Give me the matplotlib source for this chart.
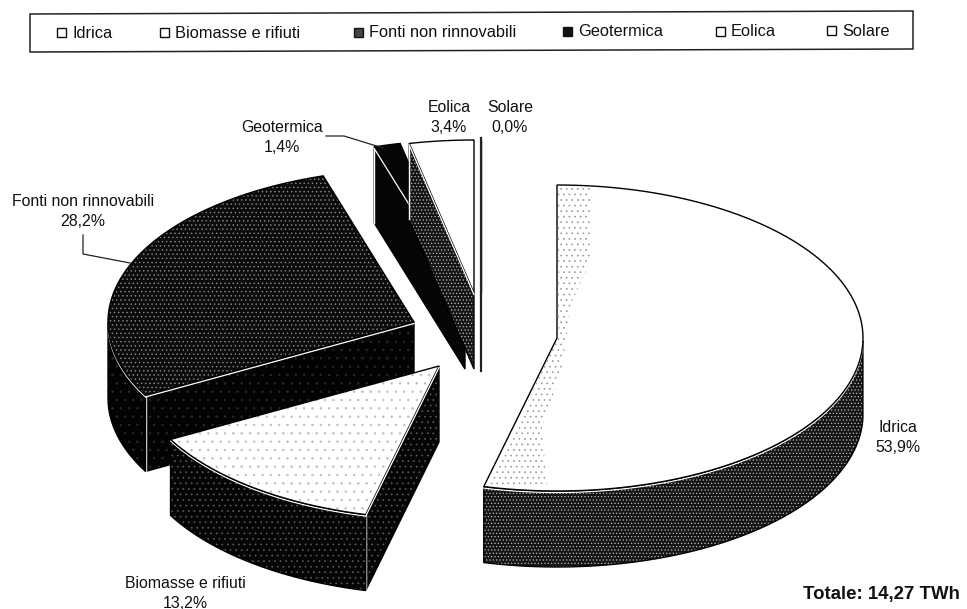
#!/usr/bin/env python3
# -*- coding: utf-8 -*-
import numpy as np
import matplotlib
matplotlib.use("Agg")
import matplotlib.pyplot as plt
from matplotlib.patches import Polygon

plt.rcParams['font.family'] = ['Liberation Sans', 'DejaVu Sans']
plt.rcParams['hatch.linewidth'] = 0.5

# Ripartizione della produzione per fonte
fonti = ["Idrica", "Biomasse e rifiuti", "Fonti non rinnovabili",
         "Geotermica", "Eolica", "Solare"]
quote = [53.9, 13.2, 28.2, 1.4, 3.4, 0.0]
etichette = ["53,9%", "13,2%", "28,2%", "1,4%", "3,4%", "0,0%"]
totale = "Totale: 14,27 TWh"

# Centro di ogni fetta esplosa, in pixel
CENTRI = [(557, 338), (439, 366), (414, 322), (465, 293), (474, 293), (481, 293)]
RX = 306
RY = 153
PROF = 76


def punto(c, t):
    return c[0] + RX * np.sin(t), c[1] - RY * np.cos(t)


def grana(ax, xy, fondo, strati, z):
    # fondo pieno e puntinato sovrapposto a strati
    ax.add_patch(Polygon(xy, closed=True, facecolor=fondo, edgecolor="none", zorder=z))
    for col, hatch in strati:
        ax.add_patch(Polygon(xy, closed=True, facecolor="none", edgecolor=col,
                             hatch=hatch, linewidth=0, zorder=z))


def bordo(ax, xy, z, col="black", lw=1.0):
    ax.add_patch(Polygon(xy, closed=True, fill=False, edgecolor=col, linewidth=lw,
                         joinstyle="miter", zorder=z))


def fetta(ax, c, t0, t1, top, lato, z):
    ts = np.linspace(t0, t1, 120)
    arco = np.array([punto(c, t) for t in ts])
    faccia = np.vstack([[c], arco])

    # parete sul taglio iniziale, visibile solo se guarda verso il basso
    if np.sin(t0) < -1e-6:
        p = np.array(punto(c, t0))
        muro = [c, p, p + [0, PROF], (c[0], c[1] + PROF)]
        grana(ax, muro, lato[0], lato[1], z)
        bordo(ax, muro, z + 0.1)
        ax.plot([p[0], p[0]], [p[1], p[1] + PROF], color="white", lw=1.0, zorder=z + 0.2)
        ax.plot([c[0], p[0]], [c[1] + 1.5, p[1] + 1.5], color="white", lw=0.9, zorder=z + 0.8)

    # parete esterna: solo la parte anteriore dell'arco
    vis = ts[np.cos(ts) <= 0]
    if len(vis) > 1:
        a = np.array([punto(c, t) for t in vis])
        muro = np.vstack([a, (a + [0, PROF])[::-1]])
        grana(ax, muro, lato[0], lato[1], z + 0.3)
        bordo(ax, muro, z + 0.4)
        ax.plot(a[:, 0], a[:, 1] + 1.5, color="white", lw=0.9, zorder=z + 0.5)

    grana(ax, faccia, top[0], top[1], z + 0.6)
    bordo(ax, faccia, z + 0.7)


fig = plt.figure(figsize=(9.67, 6.09), dpi=100)
ax = fig.add_axes([0, 0, 1, 1])
ax.set_xlim(0, 967)
ax.set_ylim(609, 0)
ax.axis("off")

# Aspetto di ogni fetta: (fondo, [(colore puntini, hatch), ...])
bianco = ("white", [])
chiaro = ("white", [("#bdbdbd", "..")])
scuro = ("#050505", [("#5c5c5c", "...")])
grigio = ("#161616", [("#b8b8b8", ".....")])
medio = ("#0c0c0c", [("#8c8c8c", "....")])
nero = ("#030303", [("#2a2a2a", "..")])
stile_top = [bianco, chiaro, medio, ("#050505", []), bianco, bianco]
stile_lato = [grigio, scuro, nero, ("#050505", []), grigio, nero]
ordine = [2, 3, 4, 5, 0, 1]

angoli = np.radians(np.cumsum([0] + quote) / sum(quote) * 360)

for n, i in enumerate(ordine):
    fetta(ax, CENTRI[i], angoli[i], angoli[i + 1], stile_top[i], stile_lato[i], 2 + n * 2)

# Fetta nulla: resta solo il tratto verticale
cs = CENTRI[5]
ax.plot([cs[0], cs[0]], [cs[1] - RY - 2, cs[1] + PROF + 2], color="#222222", lw=1.6, zorder=20)

# Ombreggiatura chiara lungo i tagli della fetta idrica
ci = CENTRI[0]
fascia = [(ci[0] + 1, ci[1] - RY + 2), (ci[0] + 33, ci[1] - RY + 3), (ci[0] + 33, ci[1] - 75),
          (ci[0] + 14, ci[1] - 35), (ci[0] + 5, ci[1] + 30), (ci[0] - 15, ci[1] + 90),
          (ci[0] - 10, ci[1] + 148), (ci[0] - 68, ci[1] + 148), ci]
ax.add_patch(Polygon(fascia, closed=True, facecolor="none", edgecolor="#9a9a9a",
                     hatch="...", linewidth=0, zorder=30))

# Etichette dei dati
pos_etichette = [(898, 437), (185, 593), (83, 211), (282, 138), (449, 118), (510, 118)]
for nome, et, (x, y) in zip(fonti, etichette, pos_etichette):
    ax.text(x, y - 10, nome, ha="center", va="center", fontsize=11.4, color="#111111", zorder=40)
    ax.text(x, y + 10, et, ha="center", va="center", fontsize=11.4, color="#111111", zorder=40)

# Linee guida
ax.plot([83, 83, 130], [235, 254, 263], color="#222222", lw=0.9, zorder=40)
ax.plot([326, 344, 383], [136, 136, 148], color="#222222", lw=0.9, zorder=40)

# Legenda, leggermente storta
ax.add_patch(Polygon([(30, 14), (913, 11), (913, 49), (30, 52)], closed=True, fill=False,
                     edgecolor="#222222", lw=1.1, zorder=40))
pos_legenda = [57, 160, 354, 563, 716, 827]
col_legenda = ["white", "white", "#444444", "#111111", "white", "white"]
for nome, x, col in zip(fonti, pos_legenda, col_legenda):
    y = 33.5 - 2.5 * (x - 30) / 883
    ax.add_patch(Polygon([(x, y - 5), (x + 9, y - 5), (x + 9, y + 4), (x, y + 4)], closed=True,
                         facecolor=col, edgecolor="#111111", lw=1.0, zorder=41))
    ax.text(x + 15, y, nome, ha="left", va="center", fontsize=11.8, color="#111111", zorder=41)

ax.text(960, 595, totale, ha="right", va="center", fontsize=13.4, fontweight="bold",
        color="#111111", zorder=41)

fig.savefig("out.png", dpi=100)
